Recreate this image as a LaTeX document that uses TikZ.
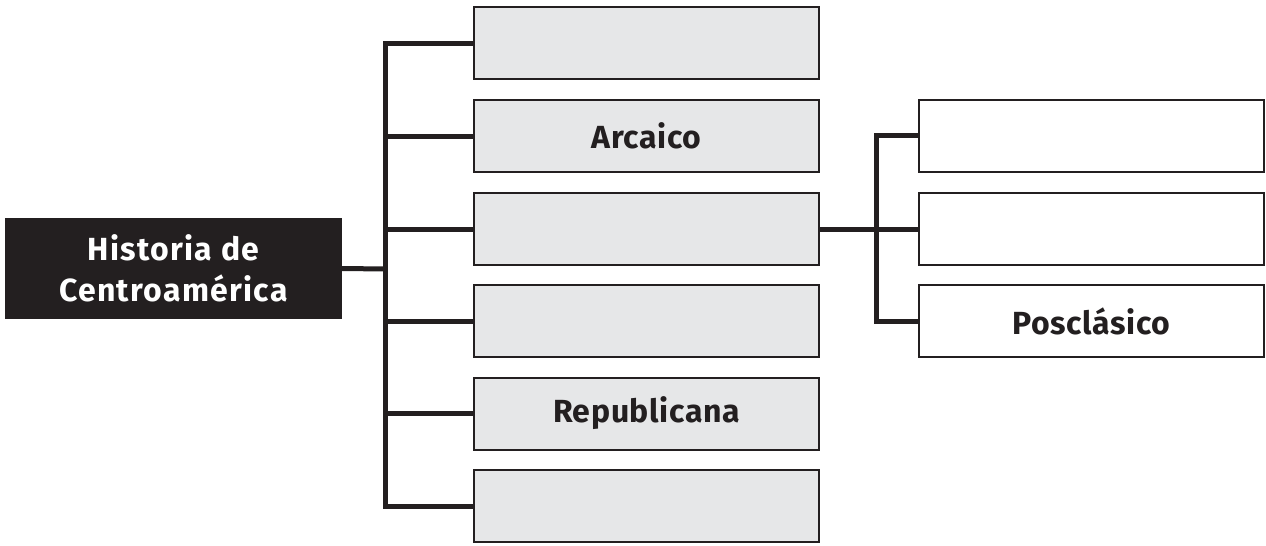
\documentclass[tikz,border=0pt]{standalone}
\usepackage{fontspec}
\setmainfont{Fira Sans}
\usetikzlibrary{positioning}
\definecolor{boxgray}{HTML}{E6E7E8}
\definecolor{inkblack}{HTML}{231F20}

\begin{document}
\begin{tikzpicture}[x=1pt,y=-1pt,
    period/.style={draw=inkblack, line width=2pt, fill=boxgray, minimum width=345pt,
                   minimum height=72pt, inner sep=0pt, text=inkblack,
                   font=\fontsize{32}{36}\selectfont\bfseries\addfontfeature{LetterSpace=2}},
    subper/.style={period, fill=white},
    title/.style={fill=inkblack, minimum width=337pt, minimum height=101pt, inner sep=0pt,
                  text=white, align=center,
                  font=\fontsize{32}{41}\selectfont\bfseries\addfontfeature{LetterSpace=4}},
    conn/.style={draw=inkblack, line width=5pt, line join=miter}]
    \useasboundingbox (0,0) rectangle (1266,546);
    \node[title]          (hist)  at (173.5,268.5) {Historia de\\Centroamérica};
    \node[period]         (per_1) at (646.5,43)    {};
    \node[period]         (per_2) at (646.5,136)   {Arcaico};
    \node[period]         (per_3) at (646.5,229)   {};
    \node[period]         (per_4) at (646.5,321)   {};
    \node[period]         (per_5) at (646.5,413.5) {Republicana};
    \node[period]         (per_6) at (646.5,506)   {};
    \node[subper]         (sub_1) at (1091.5,135.5) {};
    \node[subper]         (sub_2) at (1091.5,229)   {};
    \node[subper]         (sub_3) at (1091.5,321)   {Posclásico};
    \coordinate (tr)  at (385,269); % left branch
    \coordinate (tr2) at (876,229); % right branch
    \draw[conn] (hist.east) -- (tr);
    \foreach \i in {1,...,6}
        \draw[conn] (per_\i.west) -| (tr);
    \draw[conn] (per_3.east) -- (sub_2.west);
    \draw[conn] (sub_1.west) -| (tr2);
    \draw[conn] (sub_3.west) -| (tr2);
\end{tikzpicture}
\end{document}
